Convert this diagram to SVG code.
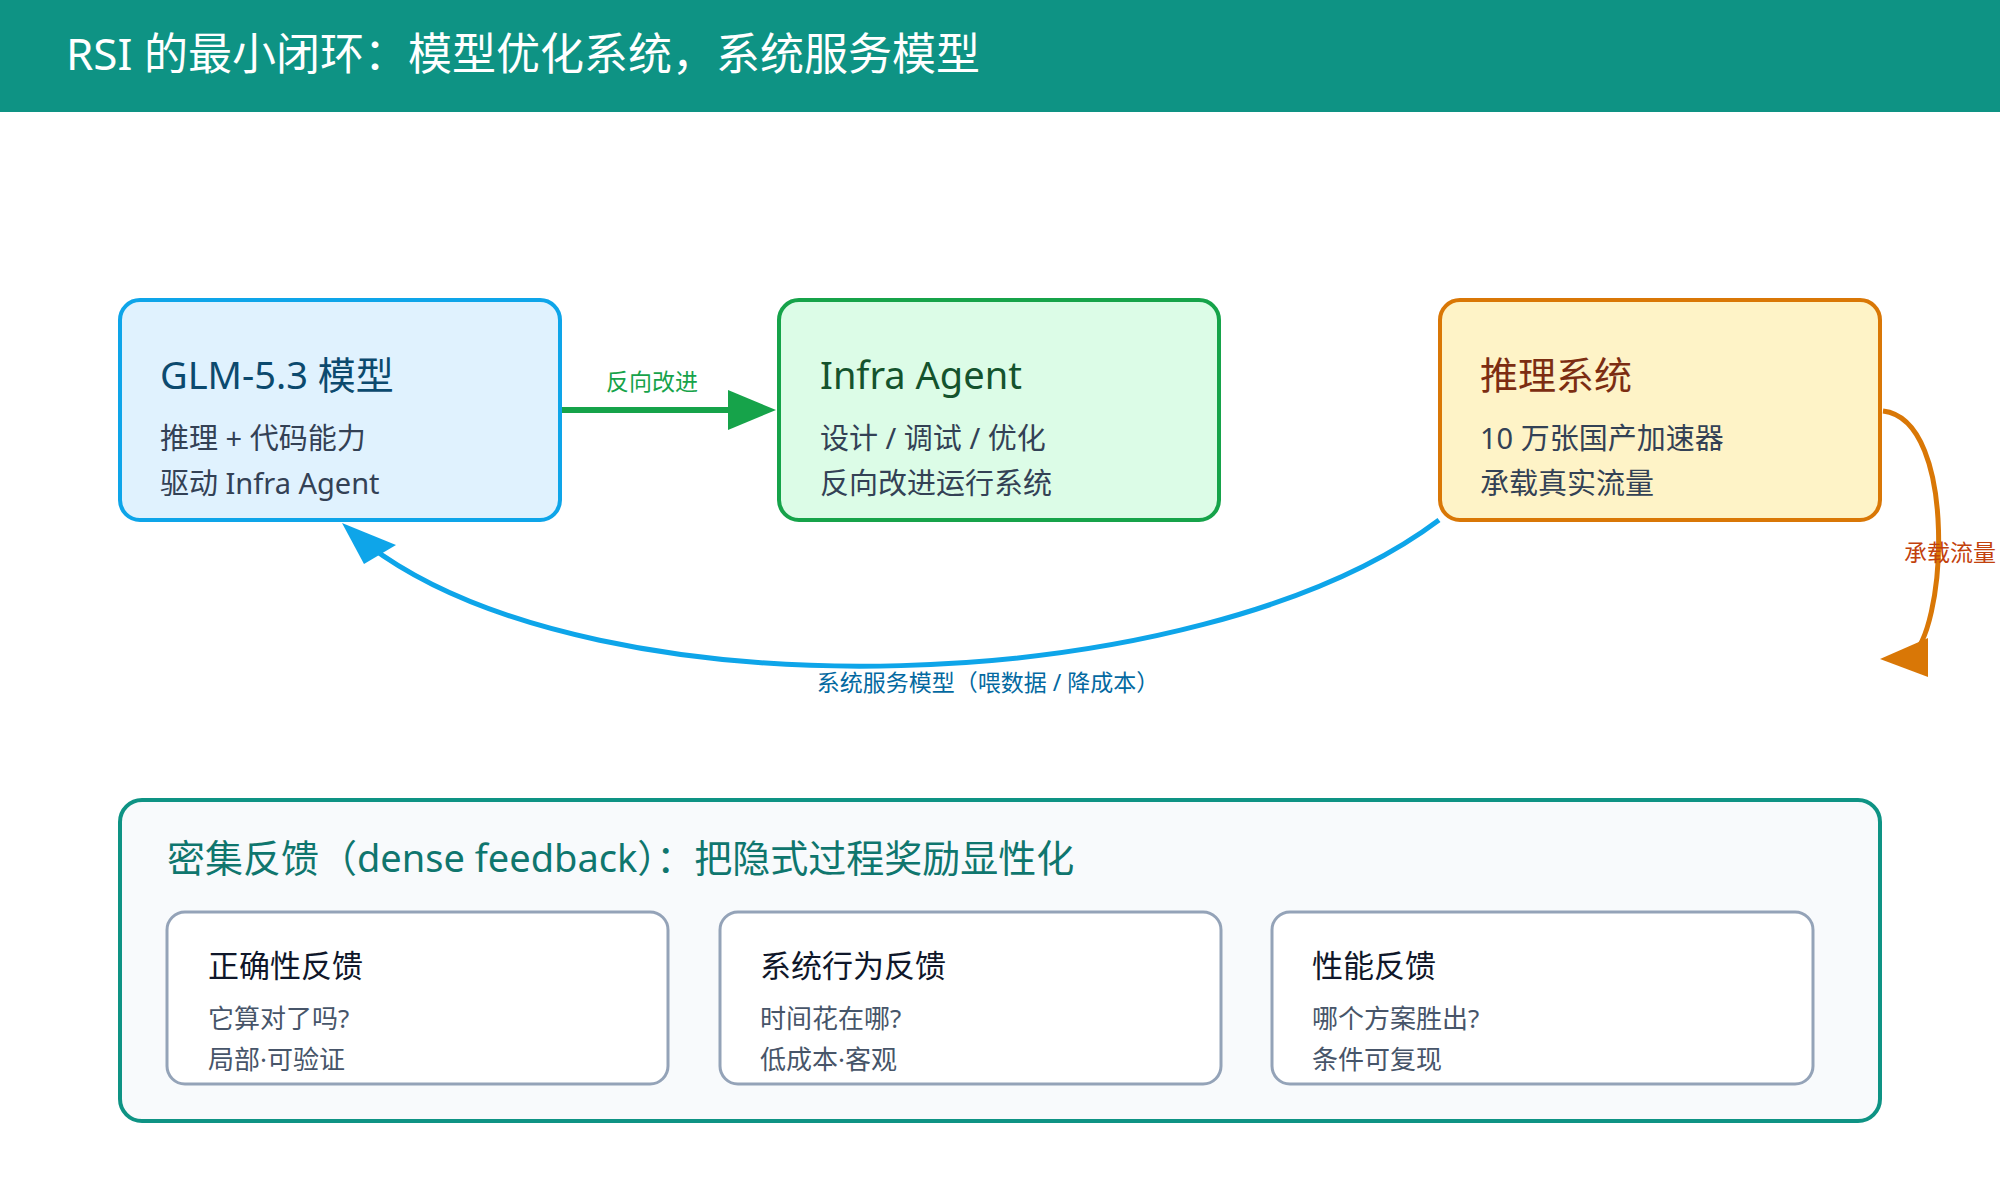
<svg xmlns="http://www.w3.org/2000/svg" width="2000" height="1200" viewBox="0 0 2000 1200">
<style>
text{font-family:"Noto Sans","Noto Sans CJK SC",sans-serif}
.t{font-size:38px}
.s{font-size:29px;fill:#334155}
.ct{font-size:31px;fill:#0f172a}
.cs{font-size:26px;fill:#475569}
.card{fill:#fff;stroke:#94a3b8;stroke-width:3}
.lbl{font-size:23px}
</style>
<defs>
<marker id="ag" markerWidth="10" markerHeight="10" refX="9" refY="5" orient="auto" markerUnits="userSpaceOnUse" viewBox="0 0 10 10"><path d="M0,0L10,5L0,10z" fill="#16a34a"/></marker>
</defs>
<rect width="2000" height="1200" fill="#fff"/>
<rect width="2000" height="112" fill="#0e9384"/>
<text x="66" y="70" font-size="44" fill="#fff">RSI 的最小闭环：模型优化系统，系统服务模型</text>
<g id="connectors">
<path d="M561,410H730" stroke="#16a34a" stroke-width="6" fill="none"/>
<path d="M728,390L776,410L728,430z" fill="#16a34a"/>
<text class="lbl" x="652" y="390" text-anchor="middle" fill="#16a34a">反向改进</text>
<path d="M1439,520C1200,700 600,720 368,545" stroke="#0ea5e9" stroke-width="5" fill="none"/>
<path d="M342,523L396,545L364,564z" fill="#0ea5e9"/>
<text class="lbl" x="988" y="691" text-anchor="middle" fill="#0369a1">系统服务模型（喂数据 / 降成本）</text>
<path d="M1883,411C1960,420 1945,640 1910,655" stroke="#d97706" stroke-width="5" fill="none"/>
<path d="M1880,659L1928,638L1928,677z" fill="#d97706"/>
<text class="lbl" x="1904" y="561" fill="#c2410c">承载流量</text>
</g>
<g id="glm">
<rect x="120" y="300" width="440" height="220" rx="20" fill="#e0f2fe" stroke="#0ea5e9" stroke-width="4"/>
<text class="t" x="160" y="389" fill="#0c4a6e">GLM-5.3 模型</text>
<text class="s" x="160" y="449">推理 + 代码能力</text>
<text class="s" x="160" y="494">驱动 Infra Agent</text>
</g>
<g id="infra">
<rect x="779" y="300" width="440" height="220" rx="20" fill="#dcfce7" stroke="#16a34a" stroke-width="4"/>
<text class="t" x="820" y="389" fill="#14532d">Infra Agent</text>
<text class="s" x="820" y="449">设计 / 调试 / 优化</text>
<text class="s" x="820" y="494">反向改进运行系统</text>
</g>
<g id="infer">
<rect x="1440" y="300" width="440" height="220" rx="20" fill="#fef3c7" stroke="#d97706" stroke-width="4"/>
<text class="t" x="1480" y="389" fill="#7c2d12">推理系统</text>
<text class="s" x="1480" y="449">10 万张国产加速器</text>
<text class="s" x="1480" y="494">承载真实流量</text>
</g>
<g id="feedback">
<rect x="120" y="800" width="1760" height="321" rx="22" fill="#f8fafc" stroke="#0e9384" stroke-width="4"/>
<text x="167" y="872" font-size="38" fill="#0f766e">密集反馈（dense feedback）：把隐式过程奖励显性化</text>
</g>
<g id="c1">
<rect class="card" x="167" y="912" width="501" height="172" rx="18"/>
<text class="ct" x="208" y="977">正确性反馈</text>
<text class="cs" x="208" y="1028">它算对了吗?</text>
<text class="cs" x="208" y="1069">局部·可验证</text>
</g>
<g id="c2">
<rect class="card" x="720" y="912" width="501" height="172" rx="18"/>
<text class="ct" x="760" y="977">系统行为反馈</text>
<text class="cs" x="760" y="1028">时间花在哪?</text>
<text class="cs" x="760" y="1069">低成本·客观</text>
</g>
<g id="c3">
<rect class="card" x="1272" y="912" width="541" height="172" rx="18"/>
<text class="ct" x="1312" y="977">性能反馈</text>
<text class="cs" x="1312" y="1028">哪个方案胜出?</text>
<text class="cs" x="1312" y="1069">条件可复现</text>
</g>
</svg>
